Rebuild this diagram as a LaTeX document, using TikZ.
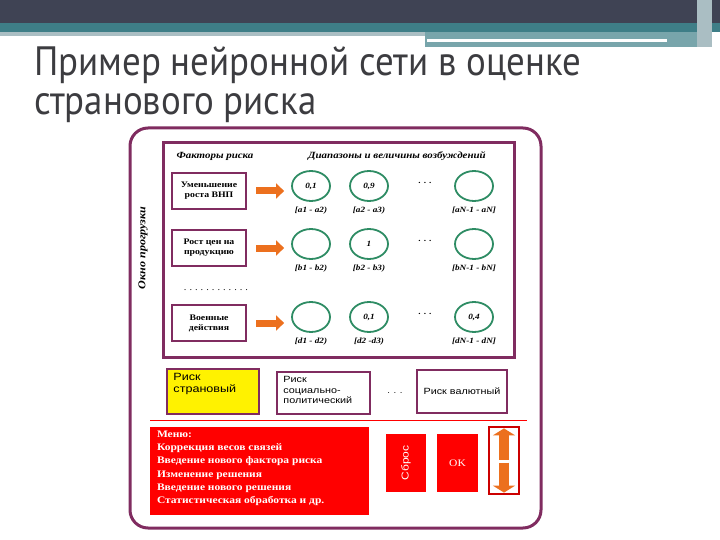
\documentclass[tikz,border=0pt]{standalone}
\usepackage{fontspec}
\usetikzlibrary{positioning,shapes.geometric,arrows.meta}
\newfontfamily\titlefont[FakeStretch=0.9]{PT Sans}
\newfontfamily\serifru[FakeStretch=1.15]{Liberation Serif}
\newfontfamily\sansru[FakeStretch=1.2]{Liberation Sans}
\definecolor{bandDark}{RGB}{63,67,84}
\definecolor{bandTeal}{RGB}{62,126,135}
\definecolor{bandLight}{RGB}{170,190,195}
\definecolor{titleGrey}{RGB}{60,60,64}
\definecolor{frameMaroon}{RGB}{128,44,96}
\definecolor{cellGreen}{RGB}{46,140,100}
\definecolor{arrowOrange}{RGB}{236,112,30}
\tikzset{
  titleline/.style={anchor=base west, inner sep=0pt, text=titleGrey, font=\titlefont\fontsize{41}{36}\selectfont},
  factorbox/.style={draw=frameMaroon, line width=2.5pt, minimum width=74pt, minimum height=36pt,
    font=\serifru\bfseries\fontsize{8.5}{10}\selectfont, align=center, inner sep=1pt},
  neuron/.style={ellipse, draw=cellGreen, line width=1.8pt, minimum width=38pt, minimum height=30pt,
    font=\serifru\bfseries\itshape\fontsize{8}{9}\selectfont, inner sep=0pt},
  rangelabel/.style={font=\serifru\bfseries\itshape\fontsize{8}{9}\selectfont},
  hdr/.style={font=\serifru\bfseries\itshape\fontsize{9.5}{10}\selectfont},
  fatarrow/.style={arrowOrange, line width=7pt, -{Triangle[width=15pt,length=8pt]}},
  riskbox/.style={draw=frameMaroon, line width=1.5pt, font=\sansru\fontsize{9}{10}\selectfont},
  redbtn/.style={fill=red, font=\serifru\fontsize{10}{11}\selectfont, text=white},
}
\begin{document}
\begin{tikzpicture}[x=1pt, y=-1pt]
  \useasboundingbox (0,0) rectangle (720,540);
  % шапка слайда
  \fill[bandDark] (0,0) rectangle (720,23);
  \fill[bandTeal] (0,23) rectangle (720,32);
  \fill[bandLight] (0,32) rectangle (425,36);
  \fill[bandTeal!70!white] (425,32) rectangle (705,47);
  \fill[white] (427,39) rectangle (667,42);
  \fill[bandLight] (697,0) rectangle (712,47);
  \node[titleline] (title1) at (34,76) {Пример нейронной сети в оценке};
  \node[titleline] (title2) at (34,115) {странового риска};

  % внешняя рамка окна
  \draw[frameMaroon, line width=3pt, rounded corners=18pt] (130,128) rectangle (541,528);
  % рамка окна прогрузки
  \draw[frameMaroon, line width=3pt] (163,143) rectangle (514,357);
  \node[hdr] (hfact) at (215,156) {Факторы риска};
  \node[hdr] (hrange) at (397,156) {Диапазоны и величины возбуждений};
  \node[hdr, font=\serifru\bfseries\itshape\fontsize{10.5}{11}\selectfont, rotate=90] (hwin) at (143,248) {Окно прогрузки};

  % факторы риска
  \node[factorbox] (f1) at (209,191) {Уменьшение\\роста ВНП};
  \node[factorbox] (f2) at (209,248) {Рост цен на\\продукцию};
  \node[factorbox] (f3) at (209,323) {Военные\\действия};
  \node[font=\serifru\fontsize{9}{9}\selectfont] (fdots) at (216,290) {.\,\,.\,\,.\,\,.\,\,.\,\,.\,\,.\,\,.\,\,.\,\,.\,\,.\,\,.};

  % нейроны: строки a, b, d
  \foreach \r/\y/\va/\vb/\vc in {1/186/{0,1}/{0,9}/{}, 2/244/{}/{1}/{}, 3/317/{}/{0,1}/{0,4}}{
    \node[neuron] (c\r1) at (311,\y) {\va};
    \node[neuron] (c\r2) at (369,\y) {\vb};
    \node[neuron] (c\r3) at (474,\y) {\vc};
    \node[font=\serifru\bfseries\fontsize{8}{9}\selectfont] (dots\r) at (425,\y-3) {. . .};
  }
  \node[rangelabel, below=2pt of c11] (l11) {[a1 - a2)};
  \node[rangelabel, below=2pt of c12] (l12) {[a2 - a3)};
  \node[rangelabel, below=2pt of c13] (l13) {[aN-1 - aN]};
  \node[rangelabel, below=2pt of c21] (l21) {[b1 - b2)};
  \node[rangelabel, below=2pt of c22] (l22) {[b2 - b3)};
  \node[rangelabel, below=2pt of c23] (l23) {[bN-1 - bN]};
  \node[rangelabel, below=2pt of c31] (l31) {[d1 - d2)};
  \node[rangelabel, below=2pt of c32] (l32) {[d2 -d3)};
  \node[rangelabel, below=2pt of c33] (l33) {[dN-1 - dN]};

  % стрелки от факторов к нейронам
  \draw[fatarrow, shorten <=9pt, shorten >=7pt] (f1.east) -- (f1.east -| c11.west);
  \draw[fatarrow, shorten <=9pt, shorten >=7pt] (f2.east) -- (f2.east -| c21.west);
  \draw[fatarrow, shorten <=9pt, shorten >=7pt] (f3.east) -- (f3.east -| c31.west);

  % выходные риски
  \node[riskbox, fill=yellow, minimum width=92pt, minimum height=45pt] (rcountry) at (213,391.5) {};
  \node[anchor=north west, font=\sansru\fontsize{10.5}{12}\selectfont, align=left, inner sep=0pt]
    (tcountry) at ([shift={(7,5)}]rcountry.north west) {Риск\\страновый};
  \node[riskbox, fill=white, minimum width=93pt, minimum height=42pt] (rsocial) at (323.5,393) {};
  \node[anchor=north west, font=\sansru\fontsize{9}{10.5}\selectfont, align=left, inner sep=0pt]
    (tsocial) at ([shift={(7,5)}]rsocial.north west) {Риск\\социально-\\политический};
  \node[font=\sansru\fontsize{8}{9}\selectfont] (rdots) at (395,393) {. . .};
  \node[riskbox, fill=white, minimum width=90pt, minimum height=43pt] (rcurrency) at (462,391.5) {Риск валютный};

  \draw[red, line width=1pt] (150,420) -- (527,420);

  % меню и кнопки
  \node[redbtn, minimum width=219pt, minimum height=88pt] (menu) at (259.5,471) {};
  \node[anchor=north west, align=left, text=white, inner sep=0pt,
    font=\serifru\bfseries\fontsize{10}{13.2}\selectfont] (tmenu) at ([shift={(7,4)}]menu.north west)
    {Меню:\\Коррекция весов связей\\Введение нового фактора риска\\Изменение решения\\Введение нового решения\\Статистическая обработка и др.};
  \node[redbtn, minimum width=40pt, minimum height=58pt] (reset) at (406,463) {};
  \node[rotate=90, text=white, font=\sansru\fontsize{10}{10}\selectfont] (treset) at (reset.center) {Сброс};
  \node[redbtn, minimum width=41pt, minimum height=58pt] (ok) at (457.5,463) {OK};
  \node[draw=red!80!black, line width=1.2pt, fill=white, minimum width=30pt, minimum height=67pt] (scroll) at (504,460.5) {};
  \draw[arrowOrange, line width=10pt, -{Triangle[width=22pt,length=7pt]}] ([yshift=1pt]scroll.center) -- ([yshift=-2pt]scroll.north);
  \draw[arrowOrange, line width=10pt, -{Triangle[width=22pt,length=7pt]}] ([yshift=-2pt]scroll.center) -- ([yshift=2pt]scroll.south);
\end{tikzpicture}
\end{document}
